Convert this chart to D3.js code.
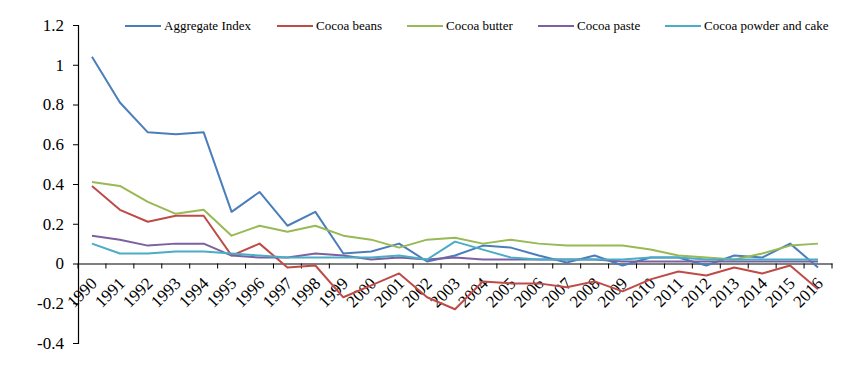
<!DOCTYPE html>
<html><head><meta charset="utf-8">
<script src="https://cdn.jsdelivr.net/npm/d3@7/dist/d3.min.js"></script>
<style>body{margin:0;background:#fff}svg{display:block}</style>
</head><body><svg id="c" width="864" height="374"></svg>
<script>
const years = ["1990","1991","1992","1993","1994","1995","1996","1997","1998","1999","2000","2001","2002","2003","2004","2005","2006","2007","2008","2009","2010","2011","2012","2013","2014","2015","2016"];
const seriesNames = ["Aggregate Index","Cocoa beans","Cocoa butter","Cocoa paste","Cocoa powder and cake"];
const aggregateIndex = [1.04,0.81,0.66,0.65,0.66,0.26,0.36,0.19,0.26,0.05,0.06,0.10,0.01,0.04,0.09,0.08,0.04,0.005,0.04,-0.01,0.03,0.03,-0.01,0.04,0.03,0.10,-0.02];
const cocoaBeans = [0.39,0.27,0.21,0.24,0.24,0.04,0.10,-0.02,-0.01,-0.17,-0.11,-0.05,-0.17,-0.23,-0.09,-0.10,-0.10,-0.12,-0.09,-0.14,-0.08,-0.04,-0.06,-0.02,-0.05,-0.01,-0.13];
const cocoaButter = [0.41,0.39,0.31,0.25,0.27,0.14,0.19,0.16,0.19,0.14,0.12,0.08,0.12,0.13,0.10,0.12,0.10,0.09,0.09,0.09,0.07,0.04,0.03,0.02,0.05,0.09,0.10];
const cocoaPaste = [0.14,0.12,0.09,0.10,0.10,0.04,0.03,0.03,0.05,0.04,0.02,0.03,0.02,0.03,0.02,0.02,0.02,0.02,0.02,0.01,0.01,0.01,0.01,0.01,0.01,0.01,0.01];
const cocoaPowder = [0.10,0.05,0.05,0.06,0.06,0.05,0.04,0.03,0.03,0.03,0.03,0.04,0.02,0.11,0.07,0.03,0.02,0.02,0.02,0.02,0.03,0.03,0.02,0.02,0.02,0.02,0.02];
const yTicks = [-0.4,-0.2,0,0.2,0.4,0.6,0.8,1,1.2];
const colors = ["#4A7EBB","#BE4B48","#98B954","#7D60A0","#4BACC6"];
const allSeries = [aggregateIndex,cocoaBeans,cocoaButter,cocoaPaste,cocoaPowder];
const FONT = "'Liberation Serif'";

const svg = d3.select("#c");
const mLeft = 78, mRight = 832, mTop = 25, mBottom = 343;
const x = d3.scaleBand().domain(years).range([mLeft, mRight]);
const y = d3.scaleLinear().domain([-0.4, 1.2]).range([mBottom, mTop]);

// y axis
const ya = svg.append("g").attr("transform", `translate(${mLeft},0)`)
  .call(d3.axisLeft(y).tickValues(yTicks).tickSize(5).tickPadding(9).tickFormat(d => String(+d.toFixed(1))));
ya.attr("font-family", null).attr("font-size", null);
ya.select(".domain").attr("stroke", "#000").attr("stroke-width", 1.2);
ya.selectAll(".tick line").attr("stroke", "#000");
ya.selectAll("text").style("font-family", FONT).style("font-size", "17px").attr("fill", "#000");

// x axis at zero
const xa = svg.append("g").attr("transform", `translate(0,${y(0)})`)
  .call(d3.axisBottom(x).tickSize(0).tickFormat(""));
xa.select(".domain").attr("stroke", "#000").attr("stroke-width", 1.2);
xa.selectAll(".tick").remove();
const bounds = years.map((d) => x(d)).concat([mRight]);
svg.append("g").selectAll("line").data(bounds).join("line")
  .attr("x1", d => d).attr("x2", d => d).attr("y1", y(0)).attr("y2", y(0) + 5).attr("stroke", "#000");
svg.append("g").selectAll("text").data(years).join("text")
  .attr("transform", d => `translate(${x(d) + x.bandwidth()/2 - 3},${y(0) + 12}) rotate(-45)`)
  .attr("text-anchor", "end").attr("dy", "0.75em").style("font-family", FONT).style("font-size", "17px").attr("fill", "#000").text(d => d);

// lines
const line = d3.line().x((d, i) => x(years[i]) + x.bandwidth()/2).y(d => y(d));
allSeries.forEach((s, k) => {
  svg.append("path").datum(s).attr("d", line).attr("fill", "none")
    .attr("stroke", colors[k]).attr("stroke-width", 2).attr("stroke-linejoin", "round");
});

// legend
const legX = [125, 277, 407, 538, 665];
const lg = svg.append("g");
seriesNames.forEach((n, k) => {
  lg.append("line").attr("x1", legX[k]).attr("x2", legX[k] + 36).attr("y1", 26).attr("y2", 26)
    .attr("stroke", colors[k]).attr("stroke-width", 2);
  lg.append("text").attr("x", legX[k] + 39).attr("y", 30).style("font-family", FONT).style("font-size", "13px").attr("fill", "#000").text(n);
});
</script></body></html>
